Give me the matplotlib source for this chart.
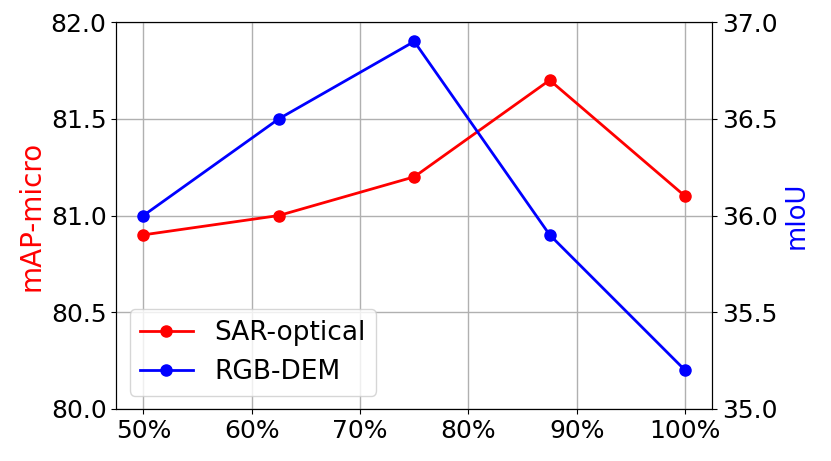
import matplotlib
matplotlib.use("Agg")
import matplotlib.pyplot as plt
from matplotlib.ticker import FuncFormatter

x_ratio = [50, 62.5, 75, 87.5, 100]
x_ticks = [50, 60, 70, 80, 90, 100]
sar_optical = [80.9, 81.0, 81.2, 81.7, 81.1]
rgb_dem = [36.0, 36.5, 36.9, 35.9, 35.2]

plt.rcParams['font.size'] = 18
fig = plt.figure(figsize=(8.31, 4.61), dpi=100)
ax = fig.add_axes([0.14, 0.113, 0.717, 0.839])
l1, = ax.plot(x_ratio, sar_optical, 'o-', color='red', lw=2, ms=8, label='SAR-optical')
ax.set_ylim(80, 82)
ax.set_yticks([80.0, 80.5, 81.0, 81.5, 82.0])
ax.yaxis.set_major_formatter(FuncFormatter(lambda v, p: f"{v:.1f}"))
ax.set_ylabel('mAP-micro', color='red', fontsize=20)
ax.set_xticks(x_ticks)
ax.xaxis.set_major_formatter(FuncFormatter(lambda v, p: f"{v:.0f}%"))
ax.grid(True, color='#b0b0b0', lw=1)
ax2 = ax.twinx()
l2, = ax2.plot(x_ratio, rgb_dem, 'o-', color='blue', lw=2, ms=8, label='RGB-DEM')
ax2.set_ylim(35, 37)
ax2.set_yticks([35.0, 35.5, 36.0, 36.5, 37.0])
ax2.yaxis.set_major_formatter(FuncFormatter(lambda v, p: f"{v:.1f}"))
ax2.set_ylabel('mIoU', color='blue', fontsize=18.5)
ax.legend(handles=[l1, l2], loc='lower left', fontsize=19)
fig.savefig('out.png', dpi=100)
